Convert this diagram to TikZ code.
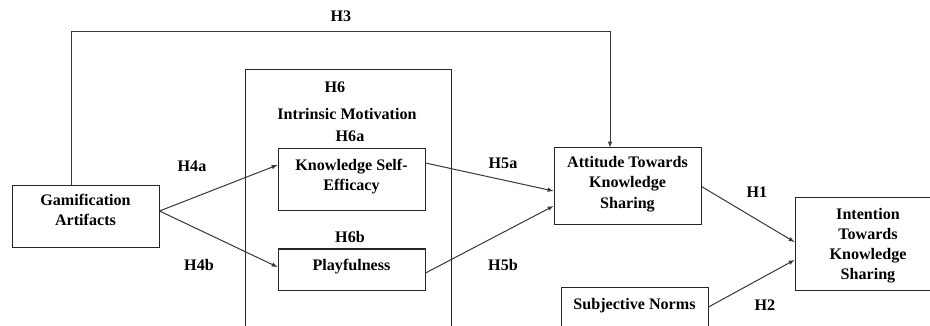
\documentclass[tikz,border=0pt]{standalone}
\usepackage{fontspec}
\setmainfont{Liberation Serif}
\usepackage{tikz}
\newcommand{\boxtext}[2]{\raisebox{#1}[\height][\depth]{\begin{tabular}{@{}c@{}}#2\end{tabular}}}

\begin{document}
\begin{tikzpicture}[x=1pt,y=-1pt,
  every node/.style={font=\fontsize{16.1}{20}\selectfont\bfseries, text=black},
  box/.style={draw=black!85, line width=1pt, inner sep=2pt},
  hyp/.style={inner sep=1pt},
  conn/.style={draw=black!78, line width=1pt, -latex}]
\clip (0,0) rectangle (930,326);
\fill[white] (0,0) rectangle (930,326);

\node[box, minimum width=206, minimum height=280, anchor=north west] (imbox) at (245,69) {};
\node[box, minimum width=147, minimum height=62] (gam) at (85.5,217) {\boxtext{5pt}{Gamification\\Artifacts}};
\node[box, minimum width=147, minimum height=62] (kse) at (351.5,180) {\boxtext{3.5pt}{Knowledge Self-\\Efficacy}};
\node[box, minimum width=147, minimum height=41] (play) at (351.5,269.5) {\boxtext{3pt}{Playfulness}};
\node[box, minimum width=147, minimum height=77] (att) at (627.5,186.5) {\boxtext{2.5pt}{Attitude Towards\\Knowledge\\Sharing}};
\node[box, minimum width=146, minimum height=92] (int) at (868,244) {\boxtext{-2pt}{Intention\\Towards\\Knowledge\\Sharing}};
\node[box, minimum width=147, text height=20pt, text depth=30pt, anchor=north] (sn) at (634.5,287) {Subjective Norms};

\node[hyp] (h3) at (341,16) {H3};
\node[hyp] (h6) at (335,87) {H6};
\node[hyp] (im) at (347,114) {Intrinsic Motivation};
\node[hyp] (h6a) at (350,136) {H6a};
\node[hyp] (h6b) at (350,237) {H6b};
\node[hyp] (h4a) at (192,166) {H4a};
\node[hyp] (h4b) at (199,265) {H4b};
\node[hyp] (h5a) at (503,163) {H5a};
\node[hyp] (h5b) at (503,265) {H5b};
\node[hyp] (h1) at (757,192) {H1};
\node[hyp] (h2) at (765,305) {H2};

\draw[conn] ([yshift=6pt]gam.east) -- ([yshift=15pt]kse.west);
\draw[conn] ([yshift=6pt]gam.east) -- ([yshift=2.5pt]play.west);
\draw[conn] ([yshift=17pt]kse.east) -- ([yshift=-4.5pt]att.west);
\draw[conn] ([yshift=-3.5pt]play.east) -- ([yshift=-19.5pt]att.west);
\draw[conn] (att.east) -- ([yshift=2pt]int.west);
\draw[conn] ([yshift=-20pt]sn.north east) -- ([yshift=-16pt]int.west);
\draw[conn] ([xshift=-14.5pt]gam.north) -- ++(0,-154) -| ([xshift=-17.5pt]att.north);
\end{tikzpicture}
\end{document}
